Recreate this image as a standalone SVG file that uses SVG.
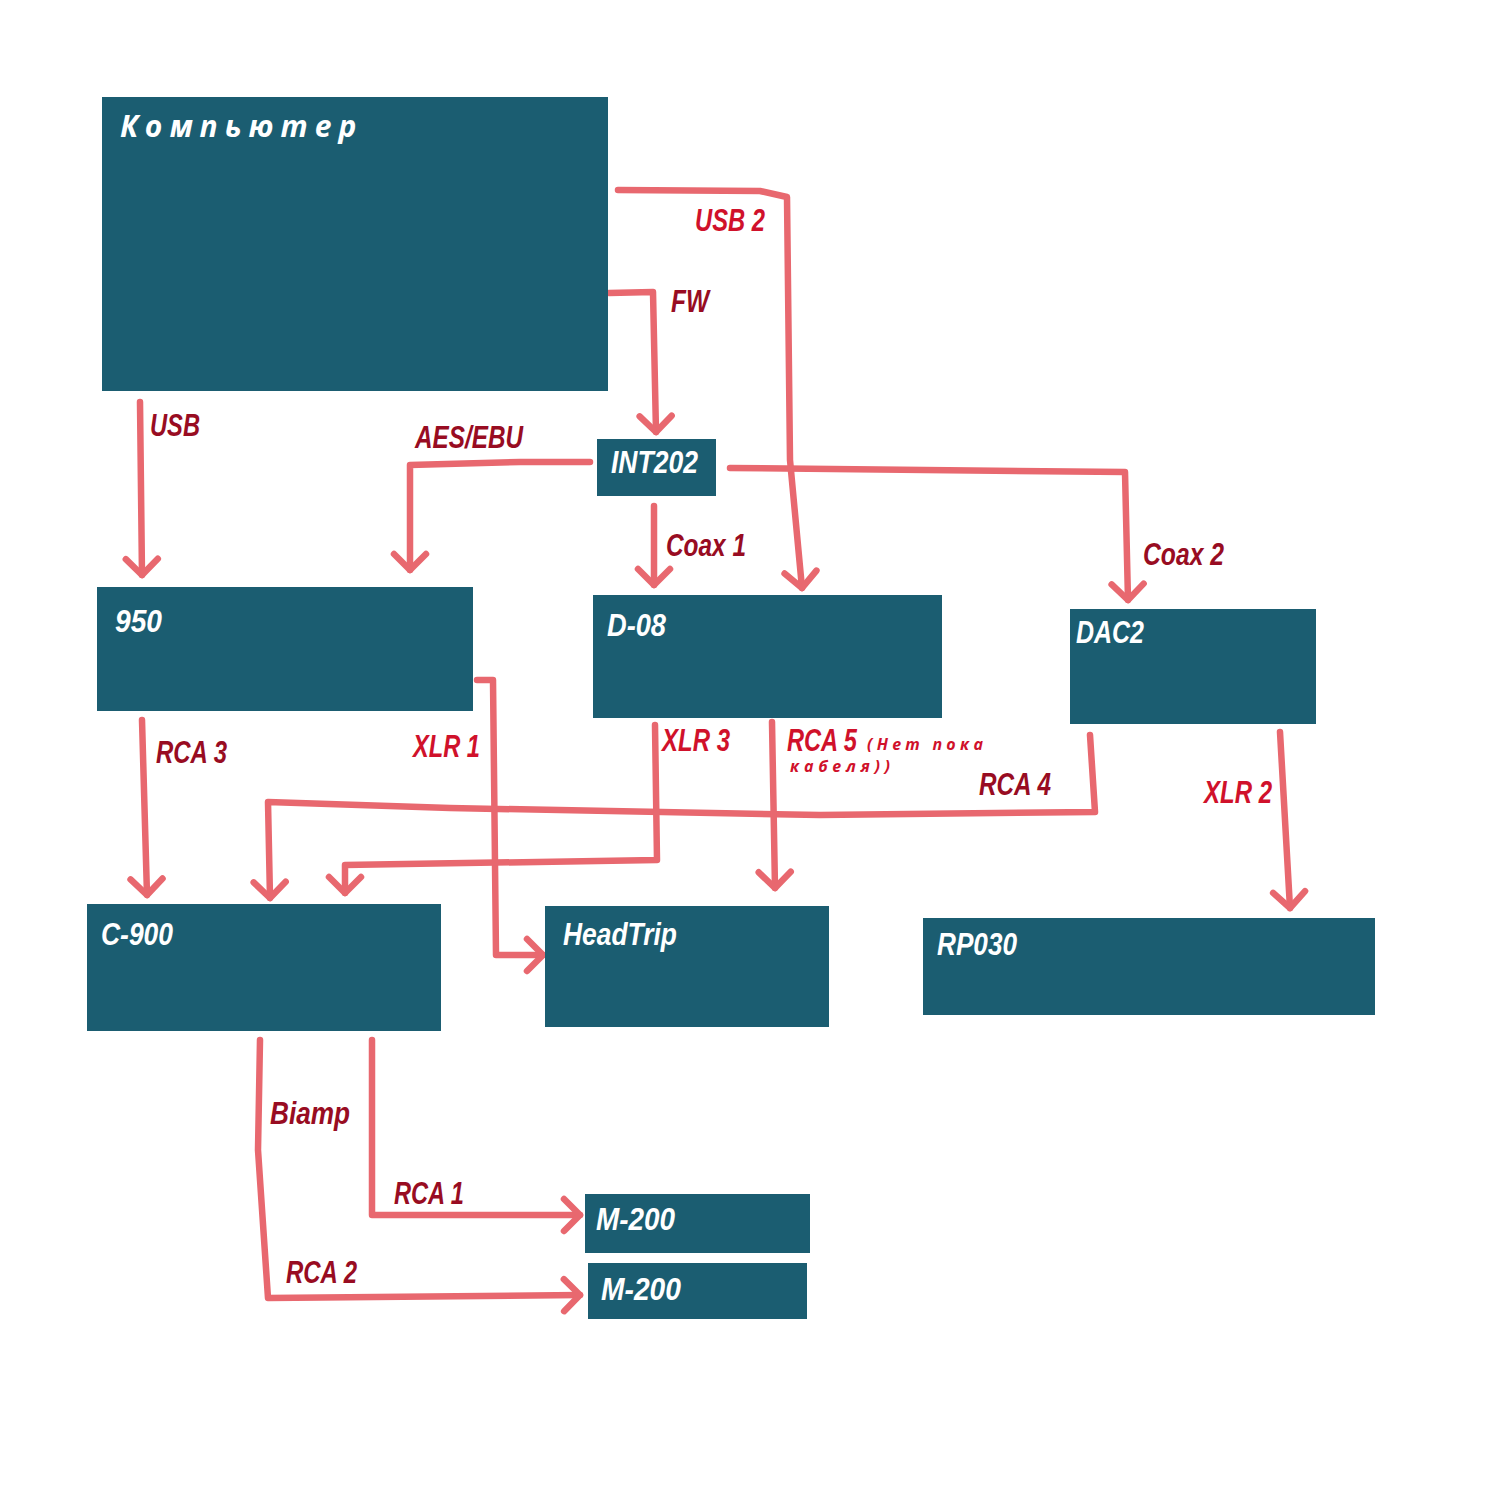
<svg xmlns="http://www.w3.org/2000/svg" width="1500" height="1500" viewBox="0 0 1500 1500">
<defs>
<style>
.box{fill:#1b5d71}
.nl{font-family:"Liberation Sans Narrow","Liberation Sans",sans-serif;font-weight:bold;font-style:italic;font-size:31px;fill:#ffffff}
.title{font-family:"Open Sans","DejaVu Sans",sans-serif;font-weight:bold;font-style:italic;font-size:30px;fill:#ffffff;letter-spacing:7px}
.lab{font-family:"Liberation Sans Narrow","Liberation Sans",sans-serif;font-weight:bold;font-style:italic;font-size:31px}
.dk{fill:#980c22}
.br{fill:#d0112b}
.note{font-family:"Open Sans","DejaVu Sans",sans-serif;font-weight:bold;font-style:italic;font-size:16px;fill:#d0112b;letter-spacing:5px}
.c{fill:none;stroke:#e8686f;stroke-width:6.5;stroke-linecap:round;stroke-linejoin:round;marker-end:url(#ah)}
</style>
<marker id="ah" markerUnits="userSpaceOnUse" markerWidth="40" markerHeight="40" refX="0" refY="0" viewBox="-20 -20 40 40" orient="auto" overflow="visible">
<path d="M-16,-16 L0,0 L-16,16" fill="none" stroke="#e8686f" stroke-width="6.5" stroke-linecap="round" stroke-linejoin="round"/>
</marker>
</defs>
<rect width="1500" height="1500" fill="#ffffff"/>

<g id="connectors">
<path class="c" d="M140,402 L142,575"/>
<path class="c" d="M618,190 L760,191 L787,197 L790,460 L802,588"/>
<path class="c" d="M609,293 L653,292 L656,432"/>
<path class="c" d="M590,462 L520,462 L410,465 L410,570"/>
<path class="c" d="M730,468 L1125,472 L1128,600"/>
<path class="c" d="M654,506 L654,585"/>
<path class="c" d="M142,720 L147,895"/>
<path class="c" d="M477,680 L493,680 L496,955 L543,955"/>
<path class="c" d="M1090,735 L1095,812 L820,815 L450,808 L268,802 L270,898"/>
<path class="c" d="M655,725 L657,860 L345,865 L345,893"/>
<path class="c" d="M772,722 L775,888"/>
<path class="c" d="M1280,732 L1290,908"/>
<path class="c" d="M260,1040 L258,1150 L268,1298 L580,1295"/>
<path class="c" d="M372,1040 L372,1215 L580,1215"/>
</g>

<g id="labels">
<text class="lab br" x="695" y="231" textLength="70" lengthAdjust="spacingAndGlyphs">USB 2</text>
<text class="lab dk" x="671" y="312" textLength="38" lengthAdjust="spacingAndGlyphs">FW</text>
<text class="lab dk" x="150" y="436" textLength="50" lengthAdjust="spacingAndGlyphs">USB</text>
<text class="lab dk" x="415" y="448" textLength="108" lengthAdjust="spacingAndGlyphs">AES/EBU</text>
<text class="lab dk" x="666" y="556" textLength="80" lengthAdjust="spacingAndGlyphs">Coax 1</text>
<text class="lab dk" x="1143" y="565" textLength="81" lengthAdjust="spacingAndGlyphs">Coax 2</text>
<text class="lab dk" x="156" y="763" textLength="71" lengthAdjust="spacingAndGlyphs">RCA 3</text>
<text class="lab br" x="413" y="757" textLength="67" lengthAdjust="spacingAndGlyphs">XLR 1</text>
<text class="lab br" x="662" y="751" textLength="68" lengthAdjust="spacingAndGlyphs">XLR 3</text>
<text class="lab br" x="787" y="751" textLength="70" lengthAdjust="spacingAndGlyphs">RCA 5</text>
<text class="note" x="867" y="750" textLength="121">(Нет пока</text>
<text class="note" x="790" y="772" textLength="105">кабеля))</text>
<text class="lab dk" x="979" y="795" textLength="72" lengthAdjust="spacingAndGlyphs">RCA 4</text>
<text class="lab br" x="1204" y="803" textLength="68" lengthAdjust="spacingAndGlyphs">XLR 2</text>
<text class="lab dk" x="270" y="1124" textLength="80" lengthAdjust="spacingAndGlyphs">Biamp</text>
<text class="lab dk" x="394" y="1204" textLength="70" lengthAdjust="spacingAndGlyphs">RCA 1</text>
<text class="lab dk" x="286" y="1283" textLength="71" lengthAdjust="spacingAndGlyphs">RCA 2</text>
</g>

<g id="computer"><rect class="box" x="102" y="97" width="506" height="294"/><text class="title" x="120" y="137">Компьютер</text></g>
<g id="int202"><rect class="box" x="597" y="439" width="119" height="57"/><text class="nl" x="611" y="473" textLength="87" lengthAdjust="spacingAndGlyphs">INT202</text></g>
<g id="n950"><rect class="box" x="97" y="587" width="376" height="124"/><text class="nl" x="115" y="632" textLength="47" lengthAdjust="spacingAndGlyphs">950</text></g>
<g id="d08"><rect class="box" x="593" y="595" width="349" height="123"/><text class="nl" x="607" y="636" textLength="59" lengthAdjust="spacingAndGlyphs">D-08</text></g>
<g id="dac2"><rect class="box" x="1070" y="609" width="246" height="115"/><text class="nl" x="1076" y="643" textLength="68" lengthAdjust="spacingAndGlyphs">DAC2</text></g>
<g id="c900"><rect class="box" x="87" y="904" width="354" height="127"/><text class="nl" x="101" y="945" textLength="72" lengthAdjust="spacingAndGlyphs">C-900</text></g>
<g id="headtrip"><rect class="box" x="545" y="906" width="284" height="121"/><text class="nl" x="563" y="945" textLength="114" lengthAdjust="spacingAndGlyphs">HeadTrip</text></g>
<g id="rp030"><rect class="box" x="923" y="918" width="452" height="97"/><text class="nl" x="937" y="955" textLength="80" lengthAdjust="spacingAndGlyphs">RP030</text></g>
<g id="m200a"><rect class="box" x="585" y="1194" width="225" height="59"/><text class="nl" x="596" y="1230" textLength="79" lengthAdjust="spacingAndGlyphs">M-200</text></g>
<g id="m200b"><rect class="box" x="588" y="1263" width="219" height="56"/><text class="nl" x="601" y="1300" textLength="80" lengthAdjust="spacingAndGlyphs">M-200</text></g>
</svg>
